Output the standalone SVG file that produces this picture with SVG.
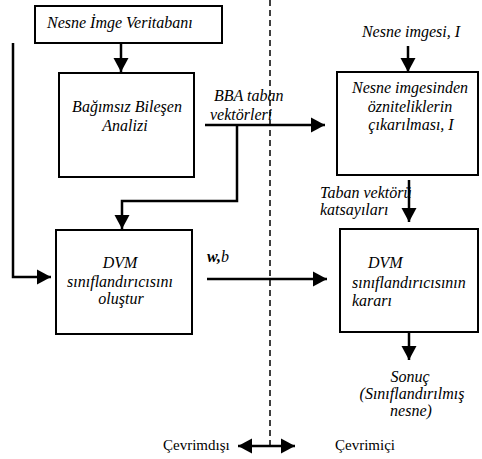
<svg xmlns="http://www.w3.org/2000/svg" width="482" height="459" viewBox="0 0 482 459" font-family="'Liberation Serif', serif" font-size="16">
<style>
.box{fill:#fff;stroke:#000;stroke-width:2}
.ln{fill:none;stroke:#000;stroke-width:2.5}
.t{font-family:'Liberation Serif',serif;font-style:italic;fill:#000}
.n{font-family:'Liberation Serif',serif;font-size:15px;fill:#000}
.m{text-anchor:middle}
</style>
<defs>
<marker id="ah" markerUnits="userSpaceOnUse" markerWidth="16" markerHeight="16" viewBox="0 0 16 16" refX="15" refY="8" orient="auto">
<path d="M1,0.5 L15,8 L1,15.5 Z" fill="#000"/>
</marker>
<marker id="ahs" markerUnits="userSpaceOnUse" markerWidth="16" markerHeight="16" viewBox="0 0 16 16" refX="15" refY="8" orient="auto-start-reverse">
<path d="M1,0.5 L15,8 L1,15.5 Z" fill="#000"/>
</marker>
</defs>
<rect width="482" height="459" fill="#fff"/>
<g id="labels">
<text class="t m" x="411" y="37">Nesne imgesi, I</text>
<text class="t" x="214" y="101">BBA taban</text>
<text class="t" x="210" y="120">vektörleri</text>
<text class="t" x="320" y="198">Taban vektörü</text>
<text class="t" x="320" y="215">katsayıları</text>
<text class="t" x="207" y="262"><tspan font-weight="bold">w,</tspan>b</text>
<text class="t m" x="410" y="382">Sonuç</text>
<text class="t m" x="412" y="399">(Sınıflandırılmış</text>
<text class="t m" x="411" y="416">nesne)</text>
<text class="n" x="163" y="450">Çevrimdışı</text>
<text class="n" x="335" y="450">Çevrimiçi</text>
</g>
<line x1="270" y1="0" x2="270" y2="446" stroke="#000" stroke-width="1.5" stroke-dasharray="6,4"/>
<g id="connectors">
<line class="ln" x1="121" y1="43" x2="121" y2="72" marker-end="url(#ah)"/>
<polyline class="ln" points="13,43 13,277 51,277" marker-end="url(#ah)"/>
<line class="ln" x1="205" y1="125" x2="325" y2="125" marker-end="url(#ah)"/>
<polyline class="ln" points="237,125 237,201 122,201 122,229" marker-end="url(#ah)"/>
<line class="ln" x1="408" y1="46" x2="408" y2="72" marker-end="url(#ah)"/>
<line class="ln" x1="409" y1="180" x2="409" y2="222" marker-end="url(#ah)"/>
<line class="ln" x1="207" y1="279" x2="327" y2="279" marker-end="url(#ah)"/>
<line class="ln" x1="409" y1="332" x2="409" y2="360" marker-end="url(#ah)"/>
<line class="ln" x1="238" y1="446" x2="295" y2="446" marker-start="url(#ahs)" marker-end="url(#ah)"/>
</g>
<g id="veritabani">
<rect class="box" x="35" y="6" width="187" height="37"/>
<text class="t" x="47" y="28">Nesne İmge Veritabanı</text>
</g>
<g id="bba">
<rect class="box" x="59" y="73" width="135" height="104"/>
<text class="t m" x="127" y="112">Bağımsız Bileşen</text>
<text class="t m" x="125" y="131">Analizi</text>
</g>
<g id="dvm-olustur">
<rect class="box" x="56" y="230" width="136" height="104"/>
<text class="t m" x="120" y="268">DVM</text>
<text class="t m" x="120" y="287">sınıflandırıcısını</text>
<text class="t m" x="121" y="304">oluştur</text>
</g>
<g id="oznitelik">
<rect class="box" x="337" y="72" width="141" height="103"/>
<text class="t m" x="410" y="93">Nesne imgesinden</text>
<text class="t m" x="410" y="112">özniteliklerin</text>
<text class="t m" x="411" y="130">çıkarılması, I</text>
</g>
<g id="dvm-karar">
<rect class="box" x="340" y="229" width="138" height="103"/>
<text class="t" x="368" y="268">DVM</text>
<text class="t" x="352" y="288">sınıflandırıcısının</text>
<text class="t" x="352" y="306">kararı</text>
</g>
</svg>
